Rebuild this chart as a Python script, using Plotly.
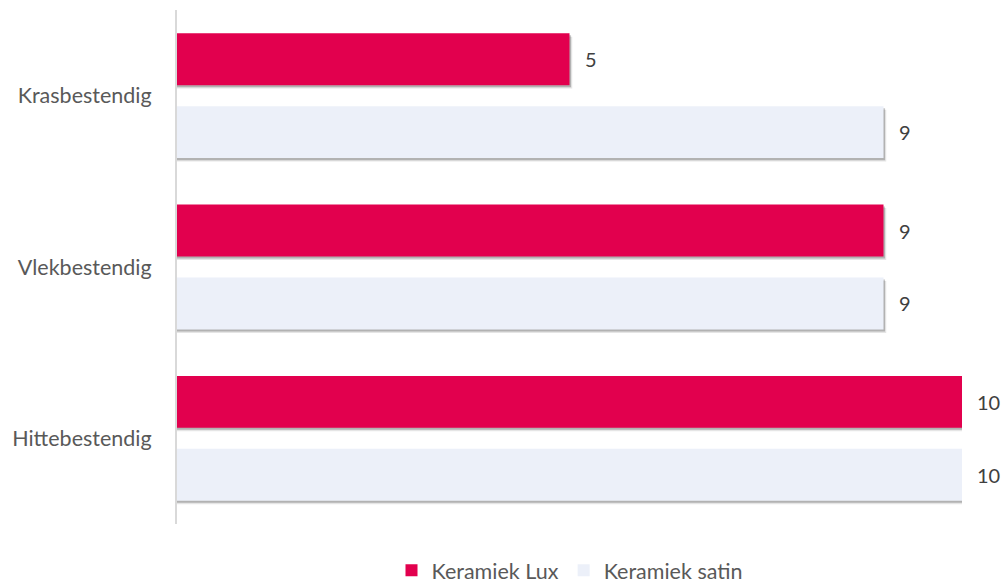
import plotly.graph_objects as go

categories = ["Krasbestendig", "Vlekbestendig", "Hittebestendig"]
lux_values = [5, 9, 10]
satin_values = [9, 9, 10]
series_names = ["Keramiek Lux", "Keramiek satin"]

RED = "#E2004E"
LIGHT = "#ECF0F9"
idx = list(range(len(categories)))
half = 0.213
bw = 0.303
FONT = "Lato"

fig = go.Figure()

series = [(lux_values, RED, -half, series_names[0]), (satin_values, LIGHT, half, series_names[1])]

# soft drop shadows
for vals, col, off, name in series:
    fig.add_trace(go.Bar(
        x=[v + 0.035 for v in vals], y=[i + off + 0.02 for i in idx], width=bw,
        orientation="h", marker=dict(color="rgba(0,0,0,0.10)", line=dict(width=0)),
        showlegend=False, hoverinfo="skip"))
    fig.add_trace(go.Bar(
        x=[v + 0.02 for v in vals], y=[i + off + 0.012 for i in idx], width=bw,
        orientation="h", marker=dict(color="rgba(0,0,0,0.22)", line=dict(width=0)),
        showlegend=False, hoverinfo="skip"))

for vals, col, off, name in series:
    fig.add_trace(go.Bar(
        x=vals, y=[i + off for i in idx], width=bw, orientation="h", name=name,
        marker=dict(color=col, line=dict(width=0))))
    for i, v in zip(idx, vals):
        fig.add_annotation(x=v, y=i + off, text=str(v), showarrow=False,
                           xanchor="left", xshift=13,
                           font=dict(family=FONT, size=20, color="#404040"))

fig.update_layout(
    width=1004, height=586,
    margin=dict(l=177, r=42, t=10, b=62, autoexpand=False),
    barmode="overlay",
    plot_bgcolor="white", paper_bgcolor="white",
    font=dict(family=FONT, size=21, color="#595959"),
    showlegend=True,
    legend=dict(orientation="h", x=0.5, xanchor="center",
                yref="container", y=0.027, yanchor="middle",
                font=dict(family=FONT, size=21.5, color="#595959"), traceorder="normal"),
    xaxis=dict(range=[0, 10], visible=False, showgrid=False, zeroline=False),
    yaxis=dict(range=[2.5, -0.5], tickvals=idx, ticktext=categories,
               showline=True, linecolor="#D9D9D9", linewidth=2, showgrid=False,
               zeroline=False, ticks="", ticklabelstandoff=19,
               tickfont=dict(family=FONT, size=21.5, color="#595959")),
)

fig.write_html("out.html", config={"displayModeBar": False},
               post_script="document.body.style.margin='0';document.body.style.overflow='hidden';")
